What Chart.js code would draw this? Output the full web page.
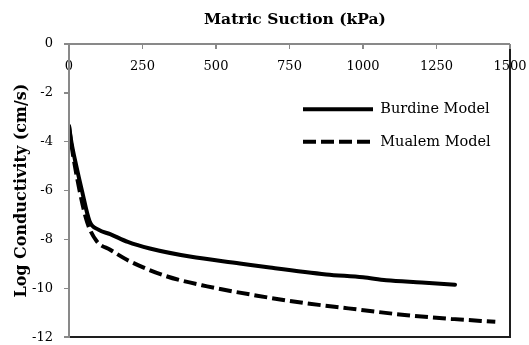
<!DOCTYPE html>
<html lang="en">
<head>
  <meta charset="UTF-8" />
  <title>Hydraulic Conductivity</title>
  <style>
    body { margin: 0; background: #fff; }
    #wrap { position: relative; width: 529px; height: 345px; }
    canvas { display: block; }
    .edge { position: absolute; pointer-events: none; }
  </style>
</head>
<body>
  <div id="wrap">
    <canvas id="kChart" width="529" height="345"></canvas>
  </div>

  <script src="https://cdn.jsdelivr.net/npm/chart.js"></script>
  <script>
    // Burdine model: suction (kPa) vs log K (cm/s)
    const burdineSuction = [0, 8, 25, 44, 70, 100, 140, 200, 275, 411, 581, 683, 875, 1000, 1079, 1200, 1313];
    const burdineLogK    = [-3.35, -4.0, -5.0, -6.0, -7.25, -7.6, -7.78, -8.1, -8.37, -8.7, -8.98, -9.15, -9.43, -9.55, -9.67, -9.76, -9.85];

    // Mualem model
    const mualemSuction = [0, 8, 36, 62, 95, 140, 200, 330, 470, 640, 800, 950, 1150, 1300, 1450];
    const mualemLogK    = [-3.35, -4.1, -6.0, -7.3, -8.08, -8.42, -8.85, -9.5, -9.92, -10.3, -10.6, -10.82, -11.1, -11.25, -11.37];

    const seriesNames = ['Burdine Model', 'Mualem Model'];
    const suctionRange = [0, 1500, 250];
    const logKRange = [-12, 0, 2];

    const toPoints = (xs, ys) => xs.map((x, i) => ({ x, y: ys[i] }));

    const serif = "'DejaVu Serif', serif";
    const axisGrey = '#898989';

    // legend sits inside the plot, upper right
    const legendInside = {
      id: 'legendInside',
      afterLayout(chart) {
        const lg = chart.legend, area = chart.chartArea;
        const w = lg.width, h = lg.height;
        lg.left = area.right - 225;
        lg.right = lg.left + w;
        lg.top = area.top + 40;
        lg.bottom = lg.top + h;
      }
    };

    const chart = new Chart(document.getElementById('kChart'), {
      type: 'line',
      data: {
        datasets: [
          {
            label: seriesNames[0],
            data: toPoints(burdineSuction, burdineLogK),
            borderColor: '#000',
            borderWidth: 4,
            borderCapStyle: 'round',
            pointRadius: 0,
            cubicInterpolationMode: 'monotone'
          },
          {
            label: seriesNames[1],
            data: toPoints(mualemSuction, mualemLogK),
            borderColor: '#000',
            borderWidth: 4,
            borderDash: [13, 5],
            pointRadius: 0,
            cubicInterpolationMode: 'monotone'
          }
        ]
      },
      options: {
        responsive: false,
        animation: false,
        layout: { padding: { left: 0, top: 0, right: 19, bottom: 7 } },
        plugins: {
          legend: {
            position: 'chartArea',
            align: 'start',
            labels: {
              usePointStyle: true,
              pointStyle: 'line',
              pointStyleWidth: 70,
              padding: 18,
              color: '#000',
              font: { family: serif, size: 14.5 },
              generateLabels(chart) {
                const items = Chart.defaults.plugins.legend.labels.generateLabels(chart);
                items.forEach((item, i) => {
                  item.lineDash = chart.data.datasets[i].borderDash || [];
                  item.lineWidth = 4;
                  item.lineCap = 'butt';
                  item.strokeStyle = '#000';
                  item.fillStyle = '#000';
                });
                return items;
              }
            }
          },
          tooltip: { enabled: false }
        },
        scales: {
          x: {
            type: 'linear',
            position: 'top',
            min: suctionRange[0],
            max: suctionRange[1],
            ticks: {
              stepSize: suctionRange[2],
              mirror: true,
              padding: 0,
              format: { useGrouping: false },
              font: { family: serif, size: 13, lineHeight: 3.5 },
              color: '#000'
            },
            grid: { display: false },
            border: { display: false },
            title: {
              display: true,
              text: '  Matric Suction (kPa)',
              color: '#000',
              font: { family: serif, size: 15.5, weight: 'bold' },
              padding: { top: 11, bottom: 0 }
            },
            afterFit(scale) { scale.height = 44; }
          },
          y: {
            type: 'linear',
            position: 'left',
            min: logKRange[0],
            max: logKRange[1],
            ticks: { stepSize: logKRange[2], padding: 0, font: { family: serif, size: 13 }, color: '#000' },
            grid: { drawOnChartArea: false, tickLength: 16, tickColor: 'rgba(0,0,0,0)' },
            border: { display: false },
            title: {
              display: true,
              text: 'Log Conductivity (cm/s)',
              color: '#000',
              font: { family: serif, size: 16, weight: 'bold' },
              padding: { top: 12, bottom: 0 }
            },
            afterFit(scale) { scale.width = 69; }
          }
        }
      },
      plugins: [legendInside]
    });

    // plot frame: grey axes on left/top with tick marks, dark edge on right/bottom,
    // laid over the canvas from the chart's own area and scales
    const wrap = document.getElementById('wrap');
    function edge(left, top, width, height, color) {
      const d = document.createElement('div');
      d.className = 'edge';
      d.style.left = left + 'px';
      d.style.top = top + 'px';
      d.style.width = width + 'px';
      d.style.height = height + 'px';
      d.style.background = color;
      wrap.appendChild(d);
    }
    const a = chart.chartArea;
    const xs = chart.scales.x, ys = chart.scales.y;
    edge(a.right - 0.75, a.top, 1.5, a.bottom - a.top + 0.75, '#1e1e1e');
    edge(a.left, a.bottom - 0.75, a.right - a.left, 1.5, '#1e1e1e');
    edge(a.left - 1, a.top - 1, 2, a.bottom - a.top + 1.75, axisGrey);
    edge(a.left - 1, a.top - 1, a.right - a.left + 1, 2, axisGrey);
    xs.ticks.forEach(t => edge(xs.getPixelForValue(t.value) - 0.75, a.top, 1.5, 5, axisGrey));
    ys.ticks.forEach(t => edge(a.left - 5, ys.getPixelForValue(t.value) - 0.75, 4, 1.5, axisGrey));
  </script>
</body>
</html>
